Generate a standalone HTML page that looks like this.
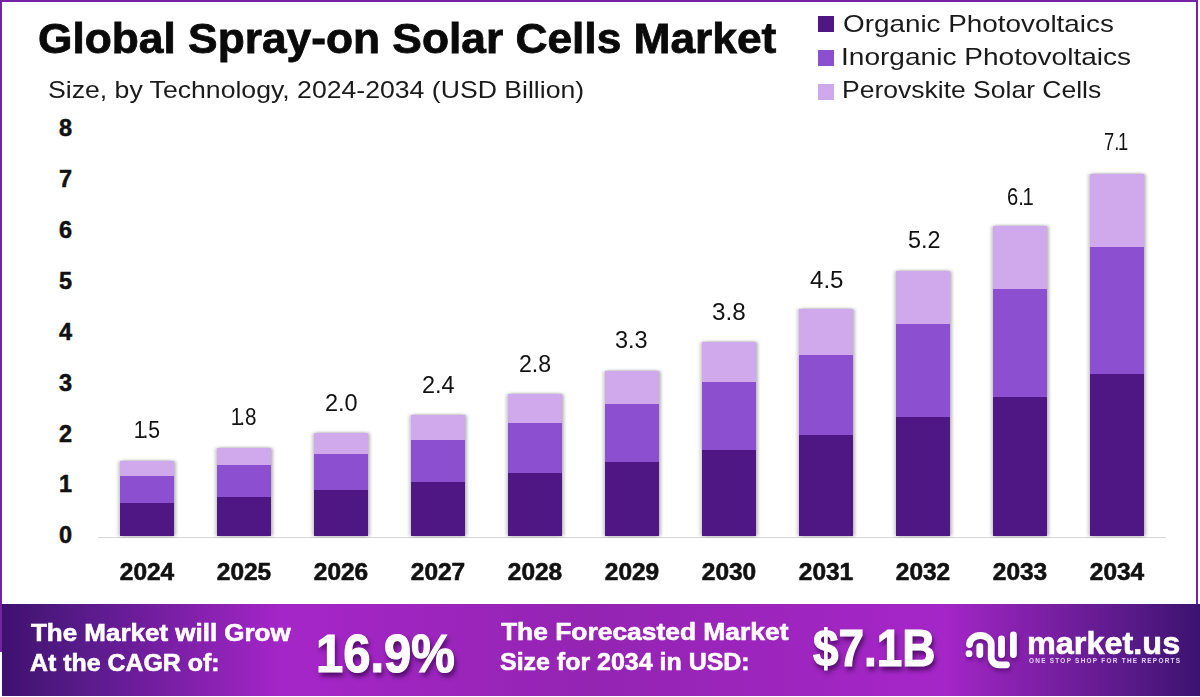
<!DOCTYPE html>
<html><head><meta charset="utf-8">
<style>
*{margin:0;padding:0;box-sizing:border-box}
html,body{width:1200px;height:697px;overflow:hidden;background:#fff}
body{position:relative;font-family:"Liberation Sans",sans-serif;color:#111}
.t{position:absolute;white-space:nowrap;transform-origin:0 0}
.b{font-weight:bold}
.frame{position:absolute;left:0;top:0;width:1198px;height:652px;border:2px solid #7424a2;border-bottom:none}
.leg{position:absolute;left:817.5px;width:16.8px;height:16.3px}
.bar{position:absolute;display:flex;flex-direction:column;box-shadow:2px 0 3px rgba(0,0,0,.28),-2px 0 3px rgba(0,0,0,.2)}
.s3{background:#d0a8ec}
.s2{background:#8b4fcf}
.s1{background:#4f1784}
.axis{position:absolute;left:98px;top:536.5px;width:1068px;height:1.5px;background:#d6d6d6}
.foot{position:absolute;left:1.5px;top:603.5px;width:1198.5px;height:92.5px;
 background:linear-gradient(90deg,#3e116e 0%,#541a86 5.8%,#6e1d9c 11.7%,#a526c8 23.4%,#9424b2 49.2%,#a526c8 78.5%,#741e9e 88.5%,#581a88 94.3%,#3c1270 100%)}
.w{color:#fff;font-weight:bold;-webkit-text-stroke:0.6px #fff}
.big{-webkit-text-stroke:1.2px #fff;text-shadow:2px 4px 6px rgba(40,0,60,.75)}
</style></head><body>
<div class="frame"></div>
<div class="t b" style="left:38.0px;top:17.5px;font-size:42px;line-height:42px;transform:scaleX(1.0545);color:#0a0a0a;-webkit-text-stroke:0.8px #0a0a0a">Global Spray-on Solar Cells Market</div>
<div class="t " style="left:48.0px;top:77.7px;font-size:24.5px;line-height:24.5px;transform:scaleX(1.0866);color:#1a1a1a">Size, by Technology, 2024-2034 (USD Billion)</div>
<div class="leg" style="top:15.5px;background:#4f1784"></div>
<div class="leg" style="top:49.9px;background:#8b4fcf"></div>
<div class="leg" style="top:84.1px;background:#d0a8ec"></div>
<div class="t " style="left:842.5px;top:11.9px;font-size:24px;line-height:24px;transform:scaleX(1.1602);color:#1a1a1a">Organic Photovoltaics</div>
<div class="t " style="left:840.5px;top:45.1px;font-size:24px;line-height:24px;transform:scaleX(1.1690);color:#1a1a1a">Inorganic Photovoltaics</div>
<div class="t " style="left:841.5px;top:77.6px;font-size:24px;line-height:24px;transform:scaleX(1.1044);color:#1a1a1a">Perovskite Solar Cells</div>
<div class="t b" style="left:22px;width:50px;text-align:right;top:524.3px;font-size:23.5px;line-height:23.5px;-webkit-text-stroke:0.5px #111">0</div><div class="t b" style="left:22px;width:50px;text-align:right;top:473.4px;font-size:23.5px;line-height:23.5px;-webkit-text-stroke:0.5px #111">1</div><div class="t b" style="left:22px;width:50px;text-align:right;top:422.5px;font-size:23.5px;line-height:23.5px;-webkit-text-stroke:0.5px #111">2</div><div class="t b" style="left:22px;width:50px;text-align:right;top:371.6px;font-size:23.5px;line-height:23.5px;-webkit-text-stroke:0.5px #111">3</div><div class="t b" style="left:22px;width:50px;text-align:right;top:320.7px;font-size:23.5px;line-height:23.5px;-webkit-text-stroke:0.5px #111">4</div><div class="t b" style="left:22px;width:50px;text-align:right;top:269.8px;font-size:23.5px;line-height:23.5px;-webkit-text-stroke:0.5px #111">5</div><div class="t b" style="left:22px;width:50px;text-align:right;top:218.9px;font-size:23.5px;line-height:23.5px;-webkit-text-stroke:0.5px #111">6</div><div class="t b" style="left:22px;width:50px;text-align:right;top:168.0px;font-size:23.5px;line-height:23.5px;-webkit-text-stroke:0.5px #111">7</div><div class="t b" style="left:22px;width:50px;text-align:right;top:117.1px;font-size:23.5px;line-height:23.5px;-webkit-text-stroke:0.5px #111">8</div>
<div class="axis"></div>
<div class="bar" style="left:120.2px;top:460.5px;height:75.5px;width:53.8px"><div class="s3" style="height:15.5px"></div><div class="s2" style="height:26.5px"></div><div class="s1" style="flex:1"></div></div><div class="t dl" style="left:136.3px;top:418.9px;font-size:23px;line-height:23px;transform:scaleX(0.9204);"><span style="display:inline-block;width:7px;text-indent:-2.5px">1</span>.5</div><div class="t b" style="left:47.1px;width:200px;text-align:center;top:559.6px;font-size:24px;line-height:24px;transform:scaleX(1.0200);transform-origin:50% 0;-webkit-text-stroke:0.6px #111">2024</div><div class="bar" style="left:217.2px;top:447.9px;height:88.1px;width:53.8px"><div class="s3" style="height:17.5px"></div><div class="s2" style="height:31.6px"></div><div class="s1" style="flex:1"></div></div><div class="t dl" style="left:232.7px;top:405.8px;font-size:23px;line-height:23px;transform:scaleX(0.8971);"><span style="display:inline-block;width:7px;text-indent:-2.5px">1</span>.8</div><div class="t b" style="left:144.1px;width:200px;text-align:center;top:559.6px;font-size:24px;line-height:24px;transform:scaleX(1.0200);transform-origin:50% 0;-webkit-text-stroke:0.6px #111">2025</div><div class="bar" style="left:314.2px;top:433.0px;height:103.0px;width:53.8px"><div class="s3" style="height:20.6px"></div><div class="s2" style="height:36.2px"></div><div class="s1" style="flex:1"></div></div><div class="t dl" style="left:325.0px;top:391.6px;font-size:23px;line-height:23px;transform:scaleX(1.0211);">2.0</div><div class="t b" style="left:241.1px;width:200px;text-align:center;top:559.6px;font-size:24px;line-height:24px;transform:scaleX(1.0200);transform-origin:50% 0;-webkit-text-stroke:0.6px #111">2026</div><div class="bar" style="left:411.3px;top:414.9px;height:121.1px;width:53.8px"><div class="s3" style="height:25.1px"></div><div class="s2" style="height:42.0px"></div><div class="s1" style="flex:1"></div></div><div class="t dl" style="left:421.9px;top:373.6px;font-size:23px;line-height:23px;transform:scaleX(1.0185);">2.4</div><div class="t b" style="left:338.2px;width:200px;text-align:center;top:559.6px;font-size:24px;line-height:24px;transform:scaleX(1.0200);transform-origin:50% 0;-webkit-text-stroke:0.6px #111">2027</div><div class="bar" style="left:508.3px;top:394.2px;height:141.8px;width:53.8px"><div class="s3" style="height:28.9px"></div><div class="s2" style="height:50.4px"></div><div class="s1" style="flex:1"></div></div><div class="t dl" style="left:518.9px;top:352.9px;font-size:23px;line-height:23px;transform:scaleX(1.0050);">2.8</div><div class="t b" style="left:435.2px;width:200px;text-align:center;top:559.6px;font-size:24px;line-height:24px;transform:scaleX(1.0200);transform-origin:50% 0;-webkit-text-stroke:0.6px #111">2028</div><div class="bar" style="left:605.3px;top:370.6px;height:165.4px;width:53.8px"><div class="s3" style="height:33.7px"></div><div class="s2" style="height:58.0px"></div><div class="s1" style="flex:1"></div></div><div class="t dl" style="left:614.8px;top:328.8px;font-size:23px;line-height:23px;transform:scaleX(1.0212);">3.3</div><div class="t b" style="left:532.2px;width:200px;text-align:center;top:559.6px;font-size:24px;line-height:24px;transform:scaleX(1.0200);transform-origin:50% 0;-webkit-text-stroke:0.6px #111">2029</div><div class="bar" style="left:702.3px;top:341.5px;height:194.5px;width:53.8px"><div class="s3" style="height:40.3px"></div><div class="s2" style="height:67.8px"></div><div class="s1" style="flex:1"></div></div><div class="t dl" style="left:712.2px;top:300.9px;font-size:23px;line-height:23px;transform:scaleX(1.0545);">3.8</div><div class="t b" style="left:629.2px;width:200px;text-align:center;top:559.6px;font-size:24px;line-height:24px;transform:scaleX(1.0200);transform-origin:50% 0;-webkit-text-stroke:0.6px #111">2030</div><div class="bar" style="left:799.3px;top:309.4px;height:226.6px;width:53.8px"><div class="s3" style="height:45.6px"></div><div class="s2" style="height:79.8px"></div><div class="s1" style="flex:1"></div></div><div class="t dl" style="left:809.7px;top:268.5px;font-size:23px;line-height:23px;transform:scaleX(1.0481);">4.5</div><div class="t b" style="left:726.2px;width:200px;text-align:center;top:559.6px;font-size:24px;line-height:24px;transform:scaleX(1.0200);transform-origin:50% 0;-webkit-text-stroke:0.6px #111">2031</div><div class="bar" style="left:896.4px;top:270.6px;height:265.4px;width:53.8px"><div class="s3" style="height:53.9px"></div><div class="s2" style="height:92.5px"></div><div class="s1" style="flex:1"></div></div><div class="t dl" style="left:907.5px;top:229.0px;font-size:23px;line-height:23px;transform:scaleX(1.0147);">5.2</div><div class="t b" style="left:823.3px;width:200px;text-align:center;top:559.6px;font-size:24px;line-height:24px;transform:scaleX(1.0200);transform-origin:50% 0;-webkit-text-stroke:0.6px #111">2032</div><div class="bar" style="left:993.4px;top:226.3px;height:309.7px;width:53.8px"><div class="s3" style="height:62.4px"></div><div class="s2" style="height:108.1px"></div><div class="s1" style="flex:1"></div></div><div class="t dl" style="left:1006.5px;top:185.5px;font-size:23px;line-height:23px;transform:scaleX(0.8767);">6.<span style="display:inline-block;width:7px;text-indent:-1.5px">1</span></div><div class="t b" style="left:920.3px;width:200px;text-align:center;top:559.6px;font-size:24px;line-height:24px;transform:scaleX(1.0200);transform-origin:50% 0;-webkit-text-stroke:0.6px #111">2033</div><div class="bar" style="left:1090.4px;top:173.5px;height:362.5px;width:53.8px"><div class="s3" style="height:73.1px"></div><div class="s2" style="height:127.3px"></div><div class="s1" style="flex:1"></div></div><div class="t dl" style="left:1104.3px;top:131.4px;font-size:23px;line-height:23px;transform:scaleX(0.7955);">7.<span style="display:inline-block;width:7px;text-indent:-1.5px">1</span></div><div class="t b" style="left:1017.3px;width:200px;text-align:center;top:559.6px;font-size:24px;line-height:24px;transform:scaleX(1.0200);transform-origin:50% 0;-webkit-text-stroke:0.6px #111">2034</div>
<div class="foot"></div>
<div class="t w" style="left:31.4px;top:620.8px;font-size:24.5px;line-height:24.5px;transform:scaleX(1.0596);">The Market will Grow</div>
<div class="t w" style="left:30.4px;top:651.2px;font-size:24.5px;line-height:24.5px;transform:scaleX(1.0166);">At the CAGR of:</div>
<div class="t w big" style="left:316.4px;top:627.2px;font-size:53px;line-height:53px;transform:scaleX(0.9244);">16.9%</div>
<div class="t w" style="left:501.0px;top:619.8px;font-size:24.5px;line-height:24.5px;transform:scaleX(1.0770);">The Forecasted Market</div>
<div class="t w" style="left:499.8px;top:649.6px;font-size:24.5px;line-height:24.5px;transform:scaleX(1.0186);">Size for 2034 in USD:</div>
<div class="t w big" style="left:813.0px;top:621.6px;font-size:52.2px;line-height:52.2px;transform:scaleX(0.8787);">$7.1B</div>
<svg style="position:absolute;left:0;top:0" width="1200" height="697">
 <g fill="none" stroke="#fff" stroke-width="6.8" stroke-linecap="round" style="filter:drop-shadow(1px 3px 2px rgba(40,0,60,.45))">
  <path d="M969.5,644.5 A10.9,9 0 0 1 991.3,644.5 L991.2,657 A7.8,7.8 0 0 0 999,664.8 L1006.5,664.8"/>
  <path d="M979.8,646.5 L979.8,654.5"/>
  <path d="M1001.5,639 L1001.5,654.5"/>
  <path d="M1013.4,635 L1013.4,654.5"/>
 </g>
 <circle cx="969" cy="653.7" r="3.4" fill="#fff" style="filter:drop-shadow(1px 3px 2px rgba(40,0,60,.45))"/>
</svg>
<div class="t w" style="left:1027.4px;top:627.5px;font-size:31px;line-height:31px;transform:scaleX(1.0458);">market.us</div>
<div class="t w" style="left:1029.4px;top:657.8px;font-size:6.5px;line-height:6.5px;transform:scaleX(0.9841);letter-spacing:1.3px;color:#e4d4f2;-webkit-text-stroke:0">ONE STOP SHOP FOR THE REPORTS</div>
</body></html>
